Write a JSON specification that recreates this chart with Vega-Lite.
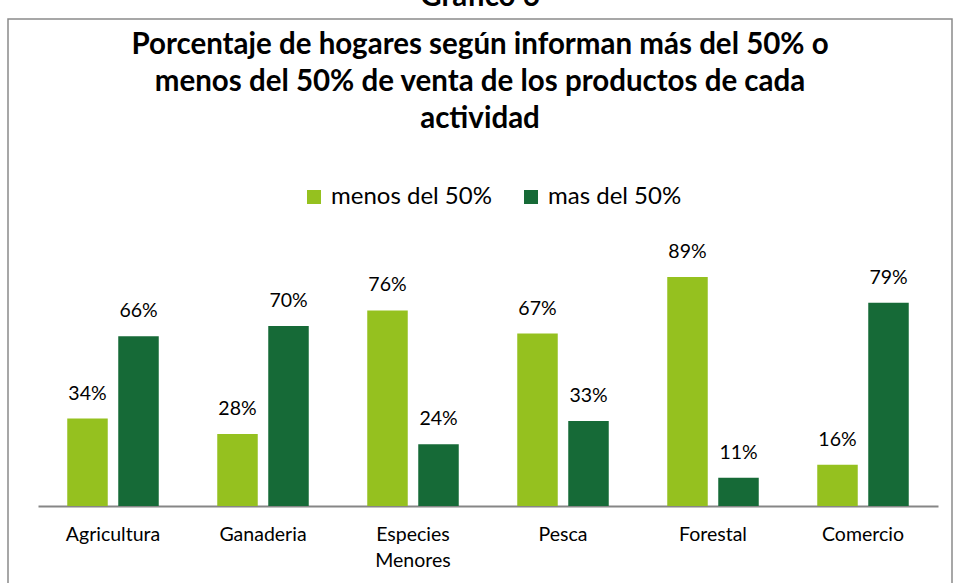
{
  "$schema": "https://vega.github.io/schema/vega-lite/v6.json",
  "autosize": "none",
  "padding": {"left": 8, "top": 19, "right": 4, "bottom": 0},
  "width": 944,
  "height": 600,
  "background": "white",
  "title": {
    "text": "Gráfico 6",
    "subtitle": ["Porcentaje de hogares según informan más del 50% o", "menos del 50% de venta de los productos de cada", "actividad"],
    "anchor": "middle",
    "frame": "group",
    "offset": -115,
    "font": "Lato",
    "fontSize": 29.5,
    "fontWeight": "bold",
    "color": "black",
    "subtitleFont": "Lato",
    "subtitleFontSize": 29.5,
    "subtitleFontWeight": "bold",
    "subtitleColor": "black",
    "subtitleLineHeight": 37,
    "subtitlePadding": 18
  },
  "data": {
    "values": [
      {"actividad": "Agricultura", "serie": "menos del 50%", "valor": 0.34},
      {"actividad": "Agricultura", "serie": "mas del 50%", "valor": 0.66},
      {"actividad": "Ganaderia", "serie": "menos del 50%", "valor": 0.28},
      {"actividad": "Ganaderia", "serie": "mas del 50%", "valor": 0.70},
      {"actividad": "Especies Menores", "serie": "menos del 50%", "valor": 0.76},
      {"actividad": "Especies Menores", "serie": "mas del 50%", "valor": 0.24},
      {"actividad": "Pesca", "serie": "menos del 50%", "valor": 0.67},
      {"actividad": "Pesca", "serie": "mas del 50%", "valor": 0.33},
      {"actividad": "Forestal", "serie": "menos del 50%", "valor": 0.89},
      {"actividad": "Forestal", "serie": "mas del 50%", "valor": 0.11},
      {"actividad": "Comercio", "serie": "menos del 50%", "valor": 0.16},
      {"actividad": "Comercio", "serie": "mas del 50%", "valor": 0.79}
    ]
  },
  "encoding": {
    "x": {
      "field": "actividad",
      "type": "nominal",
      "sort": ["Agricultura", "Ganaderia", "Especies Menores", "Pesca", "Forestal", "Comercio"],
      "scale": {"range": [30, 930], "paddingInner": 0.39, "paddingOuter": 0.195},
      "axis": {
        "title": null,
        "offset": -113,
        "labelAngle": 0,
        "labelExpr": "split(datum.label, ' ')",
        "labelFont": "Lato",
        "labelFontSize": 19.5,
        "labelColor": "black",
        "labelPadding": 19,
        "labelLineHeight": 26,
        "ticks": false,
        "domainColor": "#868686",
        "domainWidth": 2
      }
    },
    "xOffset": {
      "field": "serie",
      "type": "nominal",
      "sort": ["menos del 50%", "mas del 50%"],
      "scale": {"paddingInner": 0.206, "paddingOuter": 0}
    },
    "y": {
      "field": "valor",
      "type": "quantitative",
      "scale": {"domain": [-0.4392, 1.8927], "nice": false, "zero": false},
      "axis": null
    }
  },
  "layer": [
    {
      "mark": {"type": "bar"},
      "encoding": {
        "color": {
          "field": "serie",
          "type": "nominal",
          "sort": ["menos del 50%", "mas del 50%"],
          "scale": {"domain": ["menos del 50%", "mas del 50%"], "range": ["#95C11F", "#166A37"]},
          "legend": {
            "title": null,
            "orient": "none",
            "direction": "horizontal",
            "legendX": 294,
            "legendY": 166,
            "symbolType": "square",
            "symbolSize": 196,
            "symbolStrokeWidth": 0,
            "labelFont": "Lato",
            "labelFontSize": 24,
            "labelLimit": 400,
            "labelColor": "black",
            "labelOffset": 5,
            "columnPadding": 27,
            "padding": 0
          }
        }
      }
    },
    {
      "mark": {"type": "text", "baseline": "middle", "dy": -25, "font": "Lato", "fontSize": 19.5, "color": "black"},
      "encoding": {
        "text": {"field": "valor", "type": "quantitative", "format": ".0%"}
      }
    }
  ],
  "config": {
    "view": {"stroke": "#8a8a8a", "strokeWidth": 1.5}
  }
}
